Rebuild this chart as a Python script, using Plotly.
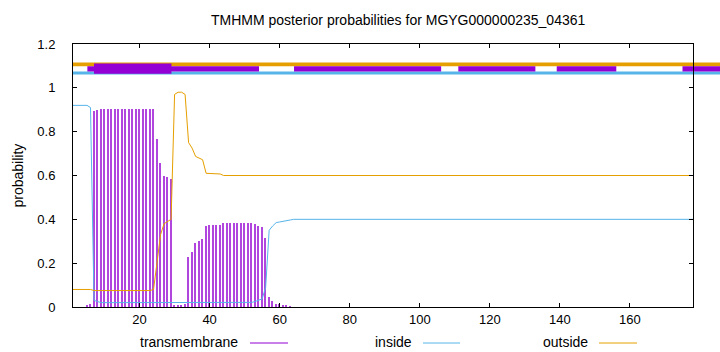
import plotly.graph_objects as go

# ---------------- data ----------------
positions = list(range(1, 179))

tm_vals = {5: 0.01, 6: 0.015, 7: 0.894, 8: 0.90}
for n in range(9, 25):
    tm_vals[n] = 0.905
tm_vals.update({25: 0.765, 26: 0.655, 27: 0.60, 28: 0.595, 29: 0.586, 30: 0.01, 31: 0.005,
                32: 0.005, 33: 0.014, 34: 0.229, 35: 0.252, 36: 0.293, 37: 0.302, 38: 0.31,
                39: 0.37, 40: 0.373, 41: 0.373, 42: 0.373, 43: 0.375})
for n in range(44, 53):
    tm_vals[n] = 0.384
tm_vals.update({53: 0.381, 54: 0.37, 55: 0.363, 56: 0.316, 57: 0.047, 58: 0.029, 59: 0.014,
                60: 0.014, 61: 0.01, 62: 0.007, 63: 0.003})
transmembrane = [tm_vals.get(n, 0.0) for n in positions]

in_vals = {1: 0.92, 2: 0.92, 3: 0.92, 4: 0.92, 5: 0.92, 6: 0.91, 7: 0.03, 8: 0.025}
for n in range(9, 52):
    in_vals[n] = 0.02
in_vals.update({52: 0.021, 53: 0.025, 54: 0.03, 55: 0.037, 56: 0.09, 57: 0.35, 58: 0.37,
                59: 0.385, 60: 0.388, 61: 0.39, 62: 0.394, 63: 0.397})
inside = [in_vals.get(n, 0.40) for n in positions]

out_vals = {1: 0.08, 2: 0.08, 3: 0.08, 4: 0.08, 5: 0.08, 6: 0.08}
for n in range(7, 24):
    out_vals[n] = 0.075
out_vals.update({24: 0.08, 25: 0.21, 26: 0.33, 27: 0.38, 28: 0.39, 29: 0.40, 30: 0.97,
                 31: 0.98, 32: 0.98, 33: 0.97, 34: 0.75, 35: 0.725, 36: 0.687, 37: 0.68,
                 38: 0.672, 39: 0.61, 40: 0.609, 41: 0.609, 42: 0.609, 43: 0.607})
outside = [out_vals.get(n, 0.60) for n in positions]

# topology bars along the top (data x units)
outside_band = [(1, 186)]
inside_band = [(1, 186)]
tm_thin_segments = [(5.1, 54.1), (64.1, 106.1), (111.0, 133.0), (139.1, 156.1), (175.0, 186.0)]
tm_thick_segments = [(7.0, 29.1)]

x_ticks = [20, 40, 60, 80, 100, 120, 140, 160]
y_ticks = [0, 0.2, 0.4, 0.6, 0.8, 1.0, 1.2]
y_tick_labels = ["0", "0.2", "0.4", "0.6", "0.8", "1", "1.2"]

title_text = "TMHMM posterior probabilities for MGYG000000235_04361"
legend_names = ["transmembrane", "inside", "outside"]

X_RANGE = [1, 178]
Y_RANGE = [0, 1.2]

C_TM = "#9400D3"
C_IN = "#56B4E9"
C_OUT = "#E69F00"
FONT = "Liberation Sans, Arial, sans-serif"

W, H = 720, 352
ML, MR, MT, MB = 73, 27, 44, 45
PW, PH = W - ML - MR, H - MT - MB


def px2paper_x(px):
    return (px - ML) / PW


def px2paper_y(py):
    return (H - MB - py) / PH


def data2paper_x(x):
    return (x - X_RANGE[0]) / (X_RANGE[1] - X_RANGE[0])


fig = go.Figure()
fig.add_trace(go.Bar(x=positions, y=transmembrane, width=0.42, marker=dict(color=C_TM, line=dict(width=0)),
                     opacity=0.72, showlegend=False))
fig.add_trace(go.Scatter(x=positions, y=inside, mode="lines", line=dict(color=C_IN, width=1), showlegend=False))
fig.add_trace(go.Scatter(x=positions, y=outside, mode="lines", line=dict(color=C_OUT, width=1), showlegend=False))

shapes = []
for a, b in outside_band:
    shapes.append(dict(type="rect", xref="paper", yref="y", x0=data2paper_x(a), x1=data2paper_x(b),
                       y0=1.099, y1=1.116, fillcolor=C_OUT, line=dict(width=0), layer="below"))
for a, b in inside_band:
    shapes.append(dict(type="rect", xref="paper", yref="y", x0=data2paper_x(a), x1=data2paper_x(b),
                       y0=1.061, y1=1.075, fillcolor=C_IN, line=dict(width=0), layer="below"))
for a, b in tm_thin_segments:
    shapes.append(dict(type="rect", xref="paper", yref="y", x0=data2paper_x(a), x1=data2paper_x(b),
                       y0=1.075, y1=1.099, fillcolor=C_TM, line=dict(width=0), layer="below"))
for a, b in tm_thick_segments:
    shapes.append(dict(type="rect", xref="paper", yref="y", x0=data2paper_x(a), x1=data2paper_x(b),
                       y0=1.064, y1=1.111, fillcolor=C_TM, line=dict(width=0), layer="below"))

# manual legend (text then sample line, gnuplot style)
legend_layout = [(240, 250, 288, C_TM), (414, 423, 460, C_IN), (590, 599, 637, C_OUT)]
annotations = []
for name, (tx, l0, l1, col) in zip(legend_names, legend_layout):
    annotations.append(dict(text=name, xref="paper", yref="paper", x=px2paper_x(tx), y=px2paper_y(342),
                            xanchor="right", yanchor="middle", showarrow=False,
                            font=dict(family=FONT, size=14, color="black")))
    shapes.append(dict(type="line", xref="paper", yref="paper", x0=px2paper_x(l0), x1=px2paper_x(l1),
                       y0=px2paper_y(343), y1=px2paper_y(343), line=dict(color=col, width=1)))

annotations.append(dict(text=title_text, xref="paper", yref="paper", x=px2paper_x(398), y=px2paper_y(20),
                        xanchor="center", yanchor="middle", showarrow=False,
                        font=dict(family=FONT, size=14, color="black")))
annotations.append(dict(text="probability", xref="paper", yref="paper", x=px2paper_x(17), y=px2paper_y(175.5),
                        xanchor="center", yanchor="middle", textangle=-90, showarrow=False,
                        font=dict(family=FONT, size=14, color="black")))

fig.update_layout(
    width=W, height=H,
    margin=dict(l=ML, r=MR, t=MT, b=MB),
    paper_bgcolor="white", plot_bgcolor="white",
    showlegend=False, bargap=0,
    shapes=shapes, annotations=annotations,
    font=dict(family=FONT, size=13, color="black"),
)
fig.update_xaxes(range=X_RANGE, tickvals=x_ticks, ticks="inside", ticklen=4, tickcolor="black",
                 showline=True, linecolor="black", linewidth=1, mirror="ticks", showgrid=False,
                 zeroline=False, tickfont=dict(family=FONT, size=13))
fig.update_yaxes(range=Y_RANGE, tickvals=y_ticks, ticktext=y_tick_labels, ticks="inside", ticklen=4,
                 tickcolor="black", showline=True, linecolor="black", linewidth=1, mirror="ticks",
                 showgrid=False, zeroline=False, tickfont=dict(family=FONT, size=13),
                 ticklabelstandoff=14)

fig.write_html("out.html")
